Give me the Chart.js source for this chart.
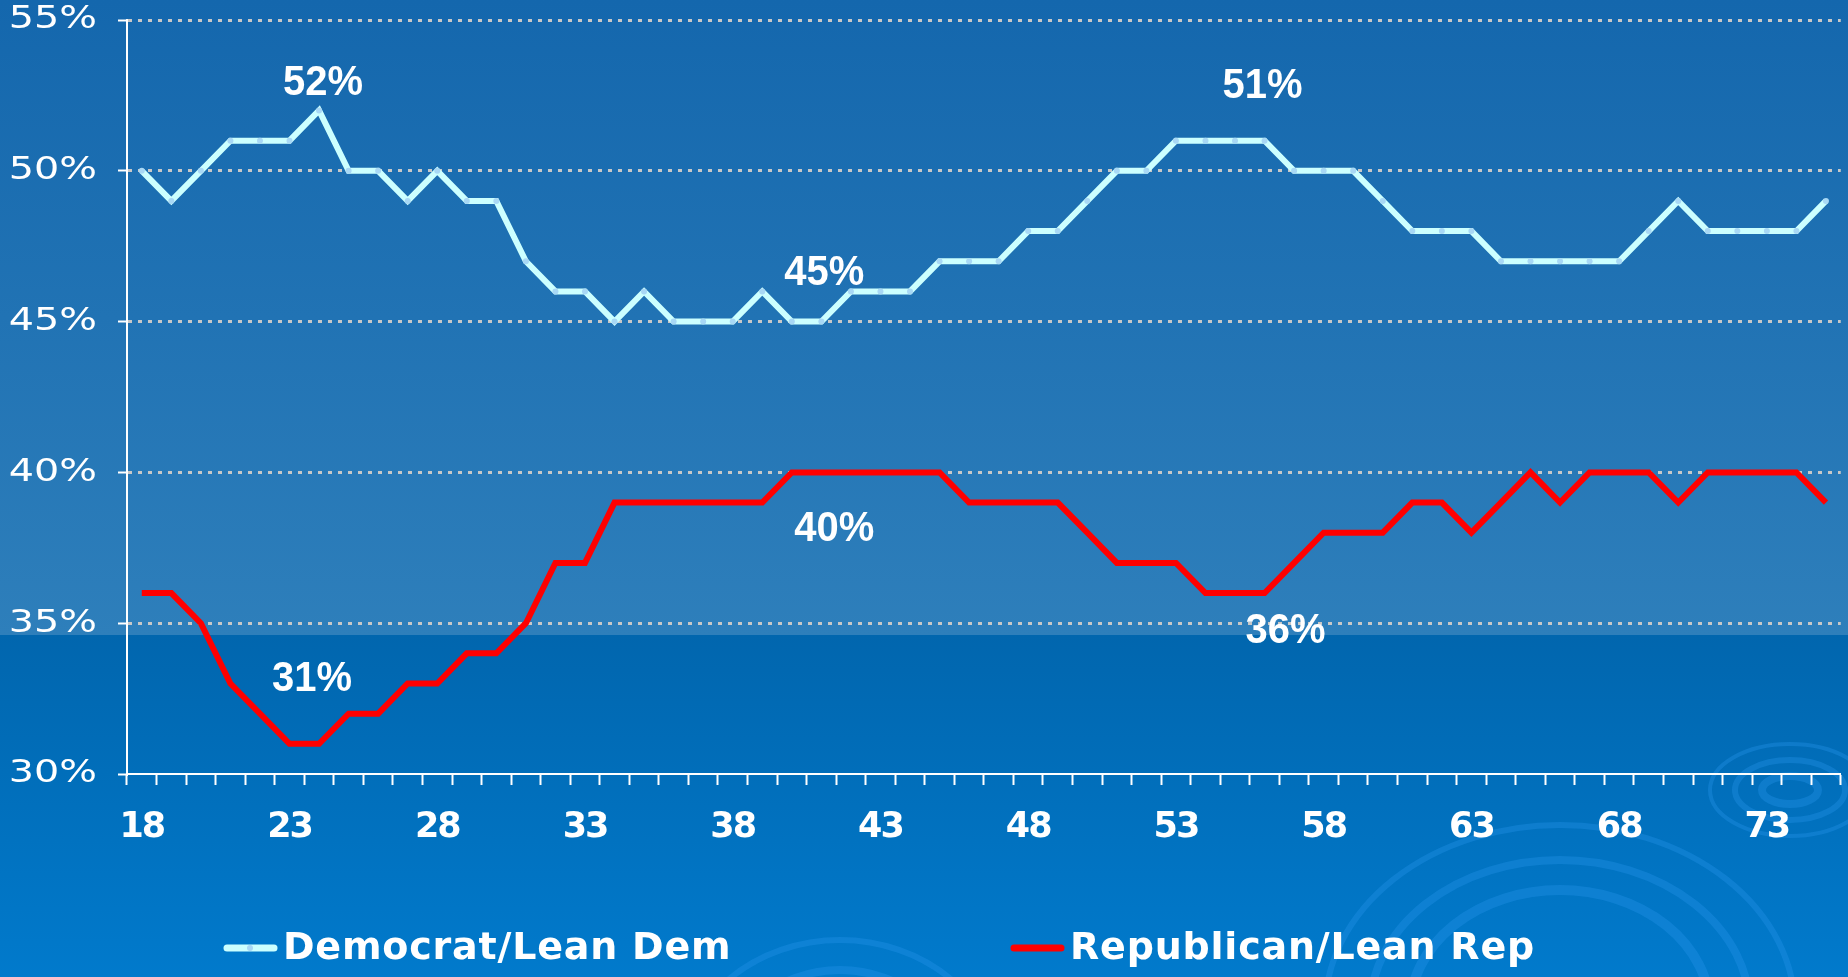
<!DOCTYPE html>
<html>
<head>
<meta charset="utf-8">
<script src="https://cdn.jsdelivr.net/npm/chart.js@4.4.1/dist/chart.umd.min.js"></script>
<style>
  html, body { margin: 0; padding: 0; background: #0a6cb2; }
  canvas { display: block; }
</style>
</head>
<body>
<canvas id="partyChart" width="1848" height="977"></canvas>
<script>
// Party identification by age
const ages = ['18','19','20','21','22','23','24','25','26','27','28','29','30','31','32','33','34','35','36','37',
  '38','39','40','41','42','43','44','45','46','47','48','49','50','51','52','53','54','55','56','57',
  '58','59','60','61','62','63','64','65','66','67','68','69','70','71','72','73','74','75'];

const demValues = [50, 49, 50, 51, 51, 51, 52, 50, 50, 49, 50, 49, 49, 47, 46, 46, 45, 46, 45, 45,
  45, 46, 45, 45, 46, 46, 46, 47, 47, 47, 48, 48, 49, 50, 50, 51, 51, 51, 51, 50,
  50, 50, 49, 48, 48, 48, 47, 47, 47, 47, 47, 48, 49, 48, 48, 48, 48, 49];

const repValues = [36, 36, 35, 33, 32, 31, 31, 32, 32, 33, 33, 34, 34, 35, 37, 37, 39, 39, 39, 39,
  39, 39, 40, 40, 40, 40, 40, 40, 39, 39, 39, 39, 38, 37, 37, 37, 36, 36, 36, 37,
  38, 38, 38, 39, 39, 38, 39, 40, 39, 40, 40, 40, 39, 40, 40, 40, 40, 39];

const xTickLabels = ['18', '23', '28', '33', '38', '43', '48', '53', '58', '63', '68', '73'];
const yMin = 30, yMax = 55, yStep = 5;

// callouts: which series / age, and where the text sits relative to the point
const callouts = [
  { series: 0, age: '24', dx: 4, dy: -27 },
  { series: 0, age: '41', dx: 3, dy: -48 },
  { series: 0, age: '56', dx: -2, dy: -54 },
  { series: 1, age: '24', dx: -7, dy: -65 },
  { series: 1, age: '41', dx: 13, dy: 57 },
  { series: 1, age: '56', dx: 21, dy: 38 },
];

// legend item positions
const legendSpots = [{ x: 224, y: 948 }, { x: 1011, y: 948 }];

// gap between y labels and their tick marks
const yLabelGap = 21;

const bgPlugin = {
  id: 'bg',
  beforeDraw(chart) {
    const { ctx, width, height } = chart;
    ctx.save();
    let g = ctx.createLinearGradient(0, 0, 0, 635);
    g.addColorStop(0, '#1467ad');
    g.addColorStop(1, '#2e7fbb');
    ctx.fillStyle = g;
    ctx.fillRect(0, 0, width, 635);
    g = ctx.createLinearGradient(0, 635, 0, height);
    g.addColorStop(0, '#0166ae');
    g.addColorStop(1, '#017acc');
    ctx.fillStyle = g;
    ctx.fillRect(0, 635, width, height - 635);

    // faint swirl decorations
    ctx.strokeStyle = 'rgba(40, 150, 235, 0.35)';
    const rings = [
      [1790, 790, 28, 14, 8], [1790, 790, 55, 30, 6], [1790, 790, 80, 46, 4],
      [1560, 1010, 150, 120, 10], [1560, 1010, 190, 150, 8], [1560, 1010, 235, 185, 6],
      [840, 1080, 120, 110, 8], [840, 1080, 160, 140, 6],
    ];
    rings.forEach(([x, y, rx, ry, w]) => {
      ctx.lineWidth = w;
      ctx.beginPath();
      ctx.ellipse(x, y, rx, ry, 0, 0, Math.PI * 2);
      ctx.stroke();
    });
    ctx.restore();
  }
};

// y labels are drawn stretched sideways and moved off the ticks, x labels a bit tighter
const labelTweaks = {
  id: 'labelTweaks',
  afterUpdate(chart) {
    const y = chart.scales.y, x = chart.scales.x;
    if (y && !y._tweaked) {
      const origY = y.drawLabels;
      y.drawLabels = function (area) {
        const c = this.ctx;
        const ax = this.right - this.options.grid.tickLength;
        c.save();
        c.translate(ax - yLabelGap, 0);
        c.scale(1.24, 1);
        c.translate(-ax, 0);
        origY.call(this, area);
        c.restore();
      };
      y._tweaked = true;
    }
    if (x && !x._tweaked) {
      const origX = x.drawLabels;
      x.drawLabels = function (area) {
        this.ctx.save();
        this.ctx.letterSpacing = '-2px';
        origX.call(this, area);
        this.ctx.restore();
      };
      x._tweaked = true;
    }
  }
};

const calloutPlugin = {
  id: 'callouts',
  afterDatasetsDraw(chart) {
    const { ctx } = chart;
    const xs = chart.scales.x, ys = chart.scales.y;
    callouts.forEach(c => {
      const idx = ages.indexOf(c.age);
      const v = chart.data.datasets[c.series].data[idx];
      const px = xs.getPixelForValue(idx);
      const py = ys.getPixelForValue(v);
      ctx.save();
      ctx.fillStyle = '#ffffff';
      ctx.font = 'bold 43px "Liberation Sans", Arial, sans-serif';
      ctx.textAlign = 'center';
      ctx.textBaseline = 'middle';
      ctx.translate(px + c.dx, py + c.dy);
      ctx.scale(0.93, 1);
      ctx.fillText(v + '%', 0, 0);
      ctx.restore();
    });
  }
};

const legendPlugin = {
  id: 'customLegend',
  afterDraw(chart) {
    const { ctx } = chart;
    ctx.save();
    chart.data.datasets.forEach((ds, i) => {
      const spot = legendSpots[i];
      ctx.strokeStyle = ds.borderColor;
      ctx.lineWidth = 7;
      ctx.lineCap = 'round';
      ctx.beginPath();
      ctx.moveTo(spot.x + 3, spot.y);
      ctx.lineTo(spot.x + 50, spot.y);
      ctx.stroke();
      if (ds.pointRadius > 0) {
        ctx.fillStyle = ds.pointBackgroundColor;
        ctx.beginPath();
        ctx.arc(spot.x + 26, spot.y, ds.pointRadius, 0, Math.PI * 2);
        ctx.fill();
      }
      ctx.fillStyle = '#ffffff';
      ctx.font = 'bold 38px "DejaVu Sans", Verdana, sans-serif';
      ctx.letterSpacing = '0.8px';
      ctx.textAlign = 'left';
      ctx.textBaseline = 'middle';
      ctx.fillText(ds.label, spot.x + 59, spot.y + 1);
    });
    ctx.restore();
  }
};

const ctx = document.getElementById('partyChart').getContext('2d');
new Chart(ctx, {
  type: 'line',
  data: {
    labels: ages,
    datasets: [
      {
        label: 'Democrat/Lean Dem',
        data: demValues,
        borderColor: '#ccffff',
        borderWidth: 6,
        pointRadius: 3,
        pointBackgroundColor: '#a8d8f5',
        pointBorderWidth: 0,
        tension: 0,
      },
      {
        label: 'Republican/Lean Rep',
        data: repValues,
        borderColor: '#ff0000',
        borderWidth: 6,
        pointRadius: 0,
        tension: 0,
      },
    ],
  },
  options: {
    responsive: false,
    animation: false,
    devicePixelRatio: 1,
    layout: { padding: { top: 20, right: 0, left: 0, bottom: 80 } },
    plugins: {
      legend: { display: false },
      tooltip: { enabled: false },
    },
    scales: {
      x: {
        offset: true,
        grid: {
          offset: true,
          drawOnChartArea: false,
          drawTicks: true,
          tickLength: 11,
          tickColor: '#ffffff',
          tickWidth: 2,
        },
        border: { color: '#ffffff', width: 2 },
        ticks: {
          autoSkip: false,
          maxRotation: 0,
          color: '#ffffff',
          padding: 22,
          font: { family: '"DejaVu Sans", Verdana, sans-serif', weight: 'bold', size: 35 },
          callback: function (value) {
            const lab = this.getLabelForValue(value);
            return xTickLabels.includes(lab) ? lab : '';
          },
        },
        afterFit(scale) { scale.height = 123; },
      },
      y: {
        min: yMin,
        max: yMax,
        grid: {
          color: c => (c.tick && c.tick.value === yMin ? 'rgba(0,0,0,0)' : '#c8c8c8'),
          lineWidth: 3,
          tickLength: 9,
          tickColor: '#ffffff',
          tickWidth: 2,
        },
        border: { color: '#ffffff', width: 2, dash: [4, 6] },
        ticks: {
          stepSize: yStep,
          color: '#ffffff',
          padding: 0,
          font: { family: '"DejaVu Sans", Verdana, sans-serif', size: 32 },
          callback: v => v + '%',
        },
        afterFit(scale) { scale.width = 127; },
      },
    },
  },
  plugins: [bgPlugin, labelTweaks, calloutPlugin, legendPlugin],
});
</script>
</body>
</html>
